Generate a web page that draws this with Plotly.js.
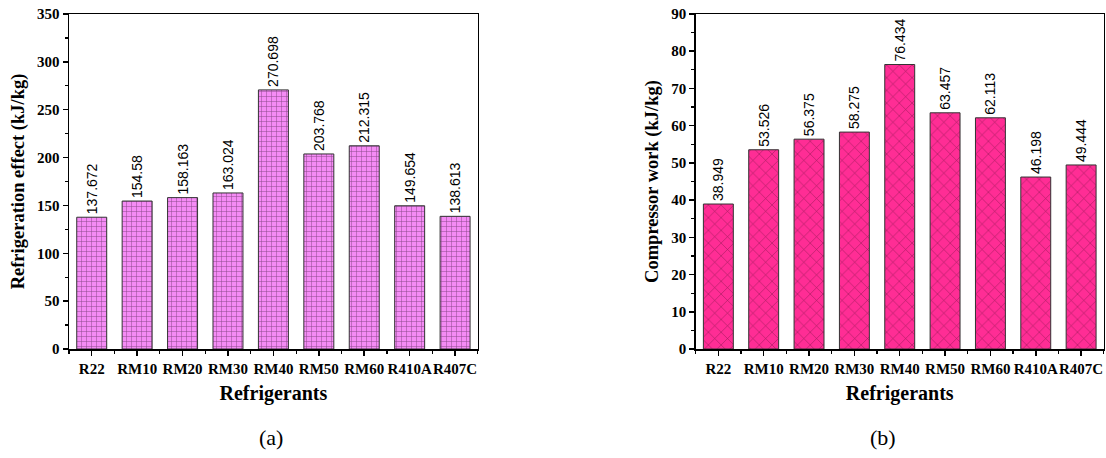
<!DOCTYPE html>
<html>
<head>
<meta charset="utf-8">
<script src="https://cdn.plot.ly/plotly-3.0.1.min.js"></script>
<style>html,body{margin:0;padding:0;background:#fff;}#chart{width:1106px;height:458px;}</style>
</head>
<body>
<div id="chart"></div>
<script>
const categories = ["R22","RM10","RM20","RM30","RM40","RM50","RM60","R410A","R407C"];
const refrigerationEffect = [137.672,154.58,158.163,163.024,270.698,203.768,212.315,149.654,138.613];
const compressorWork = [38.949,53.526,56.375,58.275,76.434,63.457,62.113,46.198,49.444];
const refrigerationEffectLabels = ["137.672","154.58","158.163","163.024","270.698","203.768","212.315","149.654","138.613"];
const compressorWorkLabels = ["38.949","53.526","56.375","58.275","76.434","63.457","62.113","46.198","49.444"];

const idx = categories.map((c,i)=>i);
const serif = "Liberation Serif, Times New Roman, serif";
const sans = "Liberation Sans, Arial, sans-serif";

const t1 = {
  type:'bar', x: idx, y: refrigerationEffect, xaxis:'x', yaxis:'y',
  width: 0.66,
  text: refrigerationEffectLabels, textposition:'outside', textangle:-90,
  constraintext:'none',
  textfont:{family:sans, size:14, color:'#000'},
  cliponaxis:false,
  marker:{color:'#F58BF5', line:{color:'#333', width:1},
    pattern:{shape:'+', fgcolor:'#2a102a', size:5, solidity:0.2, fillmode:'overlay'}},
  hoverinfo:'none'
};
const t2 = {
  type:'bar', x: idx, y: compressorWork, xaxis:'x2', yaxis:'y2',
  width: 0.66,
  text: compressorWorkLabels, textposition:'outside', textangle:-90,
  constraintext:'none',
  textfont:{family:sans, size:14, color:'#000'},
  cliponaxis:false,
  marker:{color:'#FF2D95', line:{color:'#333', width:1},
    pattern:{shape:'x', fgcolor:'#3a0820', size:9, solidity:0.12, fillmode:'overlay'}},
  hoverinfo:'none'
};

function xax(domain, anchor){
  return {domain:domain, anchor:anchor, range:[-0.5,8.5], tickmode:'array', tickvals:idx, ticktext:categories,
    tickangle:0, automargin:false,
    showline:true, linecolor:'#000', linewidth:1.5, mirror:true, showgrid:false, zeroline:false,
    ticks:'outside', ticklen:5, tickwidth:1.5, tickcolor:'#000',
    minor:{tickmode:'linear', tick0:0.5, dtick:1, ticks:'outside', ticklen:3, tickwidth:1.2, tickcolor:'#000', showgrid:false},
    tickfont:{family:serif, size:15, color:'#000', weight:'bold'},
    title:{text:'<b>Refrigerants</b>', font:{family:serif, size:20, color:'#000'}, standoff:10}};
}
function yax(range, dtick, minorDtick, title, anchor){
  return {domain:[0,1], anchor:anchor, range:range, dtick:dtick, tick0:0,
    showline:true, linecolor:'#000', linewidth:1.5, mirror:true, showgrid:false, zeroline:false,
    ticks:'outside', ticklen:5, tickwidth:1.5, tickcolor:'#000',
    minor:{dtick:minorDtick, tick0:0, ticks:'outside', ticklen:3, tickwidth:1.2, tickcolor:'#000', showgrid:false},
    tickfont:{family:serif, size:15, color:'#000', weight:'bold'},
    title:{text:'<b>'+title+'</b>', font:{family:serif, size:18.5, color:'#000'}, standoff:7}};
}

const layout = {
  width:1106, height:458, paper_bgcolor:'#fff', plot_bgcolor:'#fff',
  margin:{l:0, r:0, t:14, b:109},
  showlegend:false, bargap:0.3,
  xaxis: xax([0.0624,0.432],'y'),
  yaxis: yax([0,350],50,25,'Refrigeration effect (kJ/kg)','x'),
  xaxis2: xax([0.629,0.998],'y2'),
  yaxis2: yax([0,90],10,5,'Compressor work (kJ/kg)','x2'),
  annotations:[
    {text:'(a)', xref:'paper', yref:'paper', x:0.245, y:-0.265, yanchor:'middle', xanchor:'center', showarrow:false,
     font:{family:serif, size:22, color:'#000'}},
    {text:'(b)', xref:'paper', yref:'paper', x:0.7985, y:-0.265, yanchor:'middle', xanchor:'center', showarrow:false,
     font:{family:serif, size:22, color:'#000'}}
  ]
};

Plotly.newPlot('chart', [t1,t2], layout, {displayModeBar:false, staticPlot:true});
</script>
</body>
</html>
